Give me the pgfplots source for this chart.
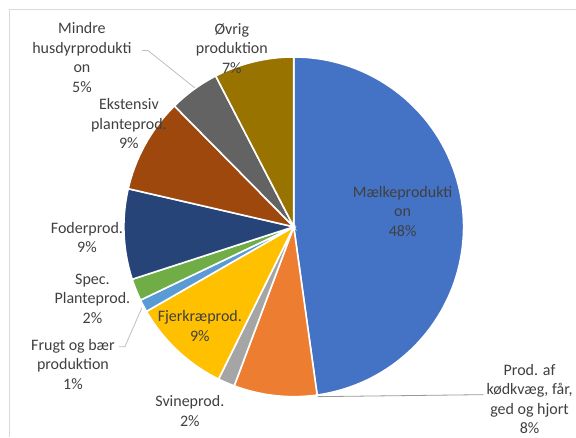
\documentclass[border=0pt]{standalone}
\usepackage{pgfplots}
\pgfplotsset{compat=1.18}
\usepackage{fontspec}
\setmainfont{Carlito}
\definecolor{cMaelk}{HTML}{4472C4}
\definecolor{cKod}{HTML}{ED7D31}
\definecolor{cSvine}{HTML}{A5A5A5}
\definecolor{cFjer}{HTML}{FFC000}
\definecolor{cFrugt}{HTML}{5B9BD5}
\definecolor{cSpec}{HTML}{70AD47}
\definecolor{cFoder}{HTML}{264478}
\definecolor{cEks}{HTML}{9E480E}
\definecolor{cMindre}{HTML}{636363}
\definecolor{cOvrig}{HTML}{997300}
\definecolor{txt}{HTML}{404040}
\definecolor{lead}{HTML}{BFBFBF}
\definecolor{framec}{HTML}{D9D9D9}
\tikzset{lbl/.style={align=center, text=txt, font={\fontsize{16bp}{19.5bp}\selectfont}, inner sep=0pt}}
% slice: cumulative start %, cumulative end %, colour (clockwise from top)
\newcommand{\slice}[3]{%
  \addplot[fill=#3, draw=white, line width=1.6bp, samples=80, variable=\t,
    domain={90-3.6*(#2)}:{90-3.6*(#1)}]
    ({294+170*cos(\t)},{227-170*sin(\t)}) -- (axis cs:294,227) -- cycle;}
\begin{document}
\begin{tikzpicture}
\begin{axis}[x=1bp, y=1bp, xmin=0, xmax=576, ymin=0, ymax=437, y dir=reverse,
  hide axis, clip=false, enlargelimits=false]
\fill[white] (axis cs:0,0) rectangle (axis cs:576,437);
\draw[framec, line width=1bp] (axis cs:10,437) -- (axis cs:10,10) -- (axis cs:576,10);
% values (%): 47.8, 7.9, 1.6, 9.4, 1.2, 2.1, 8.6, 9.0, 4.8, 7.6
\slice{0}{47.8}{cMaelk}
\slice{47.8}{55.7}{cKod}
\slice{55.7}{57.3}{cSvine}
\slice{57.3}{66.7}{cFjer}
\slice{66.7}{67.9}{cFrugt}
\slice{67.9}{70.0}{cSpec}
\slice{70.0}{78.6}{cFoder}
\slice{78.6}{87.6}{cEks}
\slice{87.6}{92.4}{cMindre}
\slice{92.4}{100}{cOvrig}
\draw[lead, line width=0.8bp] (axis cs:142,50.5) -- (axis cs:148,50.5) -- (axis cs:195,88);
\draw[lead, line width=0.8bp] (axis cs:119,347) -- (axis cs:125,347) -- (axis cs:142,308);
\draw[lead!80!black, line width=0.8bp] (axis cs:318,397) -- (axis cs:484,395);
\node[lbl] at (axis cs:82,57.5) {Mindre\\husdyrprodukti\\on\\5\%};
\node[lbl] at (axis cs:232,48.5) {Øvrig\\produktion\\7\%};
\node[lbl] at (axis cs:129,124) {Ekstensiv\\planteprod.\\9\%};
\node[lbl] at (axis cs:403,211.5) {Mælkeprodukti\\on\\48\%};
\node[lbl] at (axis cs:87,237.5) {Foderprod.\\9\%};
\node[lbl] at (axis cs:92.5,299) {Spec.\\Planteprod.\\2\%};
\node[lbl] at (axis cs:73,364.5) {Frugt og bær\\produktion\\1\%};
\node[lbl] at (axis cs:200,326.5) {Fjerkræprod.\\9\%};
\node[lbl] at (axis cs:190,411.5) {Svineprod.\\2\%};
\node[lbl] at (axis cs:530,399.5) {Prod. af\\kødkvæg, får,\\ged og hjort\\8\%};
\end{axis}
\end{tikzpicture}
\end{document}
